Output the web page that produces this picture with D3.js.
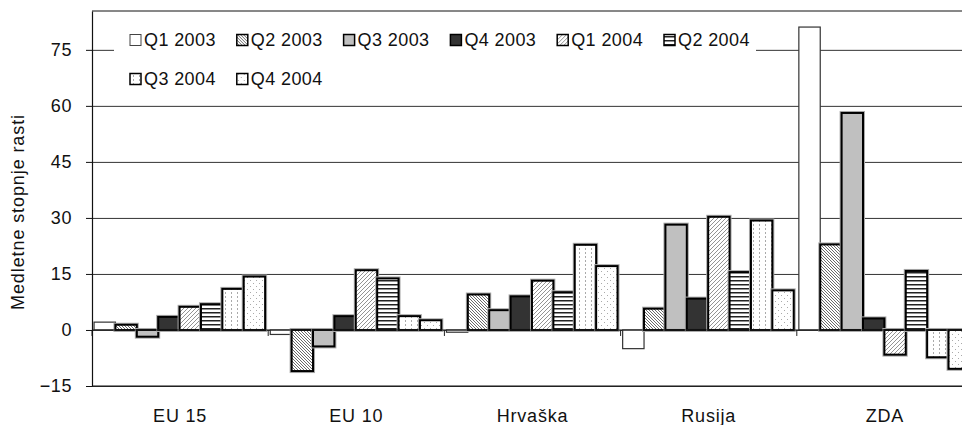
<html>
<head>
<meta charset="utf-8">
<style>
  body { margin: 0; background: #fff; }
  text { font-family: "Liberation Sans", Arial, sans-serif; fill: #111; }
</style>
<script src="https://d3js.org/d3.v7.min.js" charset="utf-8"></script>
</head>
<body>
<div id="viz"></div>
<script>
// chart values
let categories = ["EU 15", "EU 10", "Hrvaška", "Rusija", "ZDA"];
let series = ["Q1 2003", "Q2 2003", "Q3 2003", "Q4 2003", "Q1 2004", "Q2 2004", "Q3 2004", "Q4 2004"];
let q1_2003 = [2.1, -1.2, -0.6, -5.0, 81.1];
let q2_2003 = [1.4, -11.0, 9.5, 5.7, 22.9];
let q3_2003 = [-1.8, -4.4, 5.3, 28.2, 58.1];
let q4_2003 = [3.5, 3.7, 9.0, 8.4, 3.1];
let q1_2004 = [6.2, 16.0, 13.2, 30.3, -6.6];
let q2_2004 = [6.9, 13.8, 10.1, 15.5, 15.8];
let q3_2004 = [11.0, 3.7, 22.8, 29.3, -7.3];
let q4_2004 = [14.3, 2.6, 17.1, 10.6, -10.4];
let yTicks = [-15, 0, 15, 30, 45, 60, 75];
let yTitle = "Medletne stopnje rasti";

let seriesValues = [q1_2003, q2_2003, q3_2003, q4_2003, q1_2004, q2_2004, q3_2004, q4_2004];
let fills = ["#fff", "url(#p-q2-03)", "#c0c0c0", "#333", "url(#p-q1-04)", "url(#p-q2-04)", "url(#p-q3-04)", "url(#p-q4-04)"];

let width = 962, height = 425;
let plot = { left: 92, top: 11, bottom: 386, catWidth: 176.2 };

let svg = d3.select("#viz").append("svg").attr("width", width).attr("height", height);

// fill patterns
let defs = svg.append("defs");
function pattern(id, w, h) {
    let p = defs.append("pattern").attr("id", id).attr("patternUnits", "userSpaceOnUse")
        .attr("width", w).attr("height", h);
    p.append("rect").attr("width", w).attr("height", h).attr("fill", "#fff");
    return p;
}
pattern("p-q2-03", 3, 3).append("path").attr("d", "M-1,-1L4,4M-1,2L1,4M2,-1L4,1")
    .attr("stroke", "#444").attr("stroke-width", 0.8);
pattern("p-q1-04", 4, 4).append("path").attr("d", "M-1,5L5,-1M-1,1L1,-1M3,5L5,3")
    .attr("stroke", "#777").attr("stroke-width", 0.8);
pattern("p-q2-04", 4, 4).append("rect").attr("y", 0).attr("width", 4).attr("height", 1.5).attr("fill", "#222");
pattern("p-q3-04", 6, 4).append("rect").attr("x", 3).attr("width", 1).attr("height", 2).attr("fill", "#aaa");
let dots = pattern("p-q4-04", 6, 6);
dots.append("rect").attr("x", 1).attr("y", 1).attr("width", 1).attr("height", 1).attr("fill", "#aaa");
dots.append("rect").attr("x", 4).attr("y", 4).attr("width", 1).attr("height", 1).attr("fill", "#aaa");

// scales
let x0 = d3.scaleBand().domain(categories)
    .range([plot.left, plot.left + plot.catWidth * categories.length]).padding(0);
let x1 = d3.scaleBand().domain(series).range([0, x0.bandwidth()])
    .paddingInner(0).paddingOuter(0.12).align(0.4);
let y = d3.scaleLinear().domain([-15, 85.4]).range([plot.bottom, plot.top]);

// grid lines
svg.append("g")
    .attr("transform", `translate(${plot.left},0)`)
    .call(d3.axisLeft(y).tickValues(yTicks).tickSize(-(width - plot.left)).tickFormat(""))
    .call(g => g.select(".domain").remove())
    .selectAll("line").attr("stroke", "#333");

// top frame
svg.append("line")
    .attr("x1", plot.left).attr("x2", width)
    .attr("y1", y.range()[1]).attr("y2", y.range()[1])
    .attr("stroke", "#111");

// legend background hides the grid behind it
svg.append("rect").attr("x", 114).attr("y", 22).attr("width", 642).attr("height", 72).attr("fill", "#fff");

// bars
let groups = svg.selectAll(".bar-group")
    .data(series)
    .join("g")
    .attr("class", "bar-group");

groups.each(function (s, si) {
    let g = d3.select(this);
    let data = categories.map((c, ci) => ({ c: c, v: seriesValues[si][ci] }));
    let rx = d => x0(d.c) + x1(s);
    let ry = d => y(Math.max(0, d.v));
    let rh = d => Math.abs(y(d.v) - y(0));
    if (si > 0) {
        g.selectAll(".halo").data(data).join("rect").attr("class", "halo")
            .attr("x", rx).attr("y", ry).attr("width", x1.bandwidth()).attr("height", rh)
            .attr("fill", "none").attr("stroke", "#aaa").attr("stroke-width", 4);
    }
    g.selectAll(".bar").data(data).join("rect").attr("class", "bar")
        .attr("x", rx).attr("y", ry).attr("width", x1.bandwidth()).attr("height", rh)
        .attr("fill", fills[si])
        .attr("stroke", si === 0 ? "#333" : "#000")
        .attr("stroke-width", si === 0 ? 1.2 : 2);
});

// category axis at zero
svg.append("line")
    .attr("x1", plot.left).attr("x2", width)
    .attr("y1", y(0)).attr("y2", y(0))
    .attr("stroke", "#222");
svg.selectAll(".cat-tick")
    .data(categories)
    .join("line")
    .attr("class", "cat-tick")
    .attr("x1", d => x0(d)).attr("x2", d => x0(d))
    .attr("y1", y(0)).attr("y2", y(0) + 6)
    .attr("stroke", "#222");

svg.selectAll(".cat-label")
    .data(categories)
    .join("text")
    .attr("class", "cat-label")
    .attr("x", d => x0(d) + x0.bandwidth() / 2)
    .attr("y", 422)
    .attr("text-anchor", "middle")
    .style("font-size", "18px")
    .style("letter-spacing", "0.8px")
    .text(d => d);

// value axis
let yAxis = svg.append("g")
    .attr("transform", `translate(${plot.left},0)`)
    .call(d3.axisLeft(y).tickValues(yTicks).tickSize(6).tickSizeOuter(0).tickPadding(14));
yAxis.select(".domain").attr("stroke", "#111").attr("stroke-width", 1.2);
yAxis.selectAll("line").attr("stroke", "#111");
yAxis.selectAll("text")
    .style("font-size", "18px")
    .style("letter-spacing", "0.6px")
    .attr("fill", "#111");

// bottom frame
svg.append("line")
    .attr("x1", plot.left).attr("x2", width)
    .attr("y1", y(-15)).attr("y2", y(-15))
    .attr("stroke", "#111");

svg.append("text")
    .attr("transform", "translate(24,212) rotate(-90)")
    .attr("text-anchor", "middle")
    .style("font-size", "18px")
    .style("letter-spacing", "0.9px")
    .text(yTitle);

// legend
let legendCols = 6, colStep = 106.8;
let legend = svg.selectAll(".legend-item")
    .data(series)
    .join("g")
    .attr("class", "legend-item")
    .attr("transform", (d, i) => `translate(${130 + (i % legendCols) * colStep},${40 + Math.floor(i / legendCols) * 39})`);

legend.append("rect")
    .attr("x", 0).attr("y", -5.5)
    .attr("width", 11).attr("height", 11)
    .attr("fill", (d, i) => fills[i])
    .attr("stroke", (d, i) => i === 0 ? "#444" : "#000")
    .attr("stroke-width", (d, i) => i === 0 ? 1 : 1.5);

legend.append("text")
    .attr("x", 14).attr("y", 0).attr("dy", "0.36em")
    .style("font-size", "18px")
    .style("letter-spacing", "0.4px")
    .text(d => d);
</script>
</body>
</html>
